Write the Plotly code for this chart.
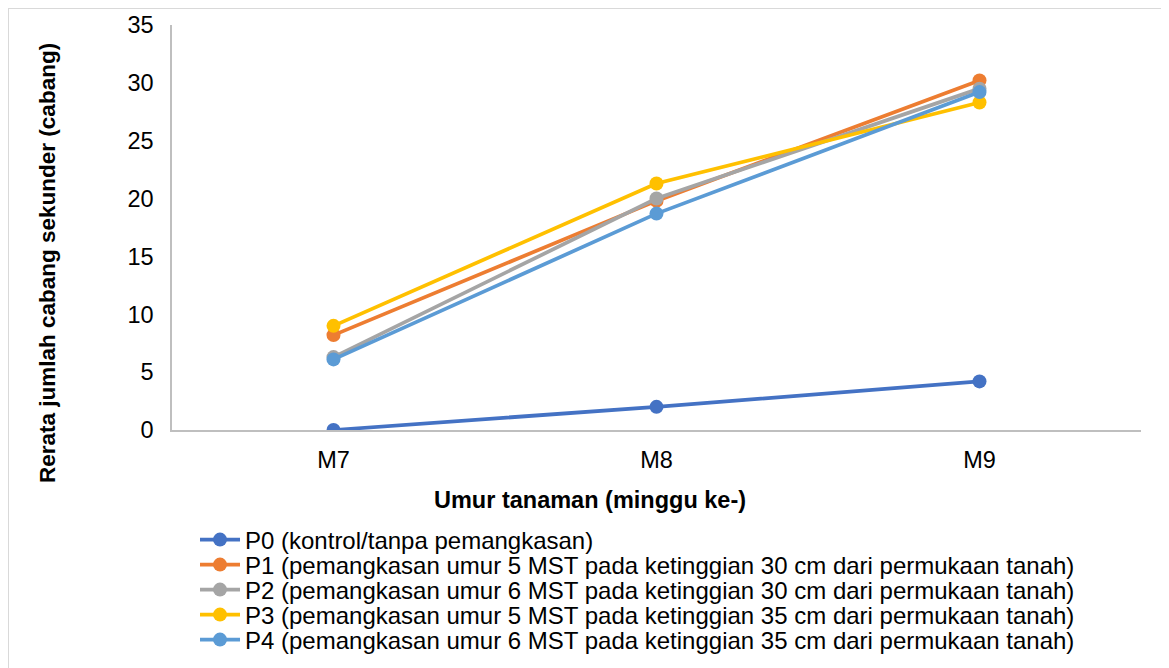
import plotly.graph_objects as go

categories = ["M7", "M8", "M9"]
series_names = [
    "P0 (kontrol/tanpa pemangkasan)",
    "P1 (pemangkasan umur 5 MST pada ketinggian 30 cm dari permukaan tanah)",
    "P2 (pemangkasan umur 6 MST pada ketinggian 30 cm dari permukaan tanah)",
    "P3 (pemangkasan umur 5 MST pada ketinggian 35 cm dari permukaan tanah)",
    "P4 (pemangkasan umur 6 MST pada ketinggian 35 cm dari permukaan tanah)",
]
p0 = [0.0, 2.0, 4.2]
p1 = [8.2, 19.8, 30.2]
p2 = [6.3, 20.0, 29.5]
p3 = [9.0, 21.3, 28.3]
p4 = [6.1, 18.7, 29.2]
values = [p0, p1, p2, p3, p4]
colors = ["#4472C4", "#ED7D31", "#A5A5A5", "#FFC000", "#5B9BD5"]

# page offset (default body margin of the html page)
OFF = 8
W, H = 1169, 668
# desired plot area in page pixels
X0, X1, Y0, Y1 = 172, 1141, 25, 430
L = X0 - OFF
T = Y0 - OFF
R = W - (X1 - OFF)
B = H - (Y1 - OFF)
pw, ph = X1 - X0, Y1 - Y0

def px(x):
    return (x - X0) / pw

def py(y):
    return (Y1 - y) / ph

FS = 23.5
legend_rows = [540, 565, 590, 615, 640]

fig = go.Figure()
legend_cfg = {}
for i, (name, vals, c) in enumerate(zip(series_names, values, colors)):
    lname = "legend" if i == 0 else f"legend{i + 1}"
    fig.add_trace(go.Scatter(
        x=categories, y=vals, name=name, mode="lines+markers",
        line=dict(color=c, width=3.75),
        marker=dict(color=c, size=14),
        legend=lname,
    ))
    legend_cfg[lname] = dict(
        x=px(195), y=py(legend_rows[i]), xanchor="left", yanchor="middle",
        font=dict(size=24), itemwidth=40, bgcolor="rgba(0,0,0,0)",
        borderwidth=0,
    )

font_family = "Liberation Sans, Arial, sans-serif"
fig.update_layout(
    width=W, height=H,
    margin=dict(l=L, r=R, t=T, b=B, autoexpand=False),
    paper_bgcolor="white", plot_bgcolor="white",
    font=dict(family=font_family, size=FS, color="#000000"),
    showlegend=True,
    xaxis=dict(
        type="category", range=[-0.5, 2.5], showgrid=False,
        showline=True, linecolor="#BFBFBF", linewidth=1.5,
        ticks="", ticklabelstandoff=8, tickfont=dict(size=FS),
        zeroline=False,
    ),
    yaxis=dict(
        range=[0, 35], dtick=5, showgrid=False, zeroline=False,
        showline=True, linecolor="#BFBFBF", linewidth=1.5,
        ticks="", ticklabelstandoff=12, tickfont=dict(size=FS),
    ),
    annotations=[
        dict(text="<b>Umur tanaman (minggu ke-)</b>", xref="paper", yref="paper",
             x=px(590), y=py(500), xanchor="center", yanchor="middle",
             showarrow=False, font=dict(size=FS)),
        dict(text="<b>Rerata jumlah cabang sekunder (cabang)</b>", xref="paper", yref="paper",
             x=px(47), y=py(263), xanchor="center", yanchor="middle",
             textangle=-90, showarrow=False, font=dict(size=22.5)),
    ],
    shapes=[
        dict(type="rect", xref="paper", yref="paper",
             x0=px(8), x1=px(1185), y0=py(690), y1=py(8),
             line=dict(color="#D9D9D9", width=2), fillcolor="rgba(0,0,0,0)", layer="below"),
    ],
    **legend_cfg,
)

fig.write_html("out.html")
